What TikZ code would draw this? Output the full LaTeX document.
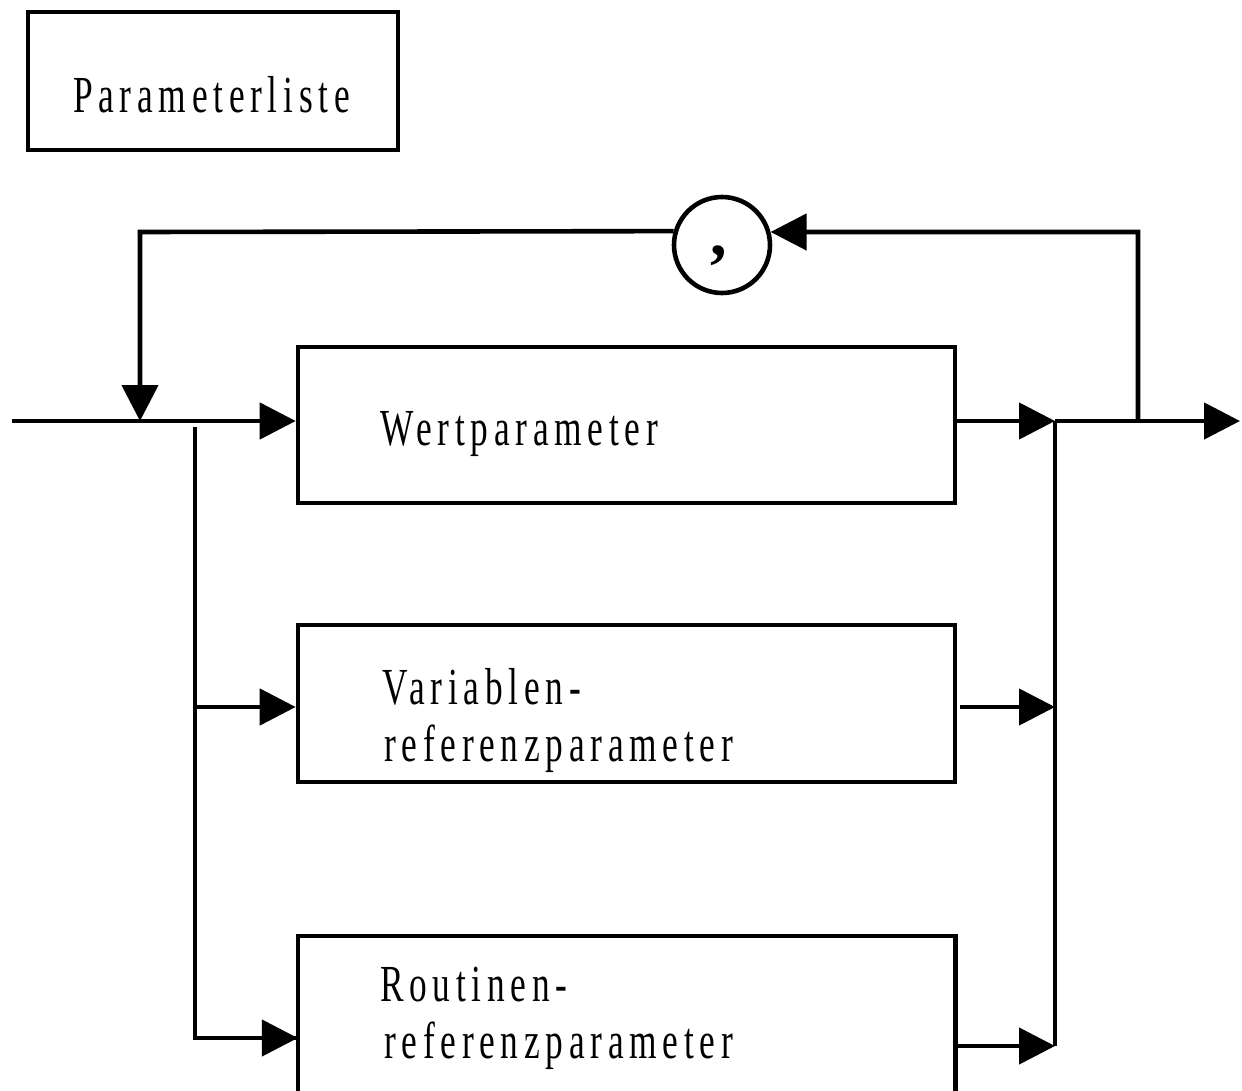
\documentclass[tikz,border=0pt]{standalone}
\usepackage{fontspec}
\setmainfont{Liberation Serif}
\newfontfamily\lblfont[FakeStretch=0.68,LetterSpace=11]{Liberation Serif}
\usetikzlibrary{arrows.meta}
\tikzset{
  wire/.style={line width=4.6pt, line join=miter},
  flow/.style={wire, -{Triangle[length=36pt,width=36pt]}},
  box/.style={draw, line width=4.6pt, rectangle, inner sep=0pt},
  lbl/.style={anchor=base west, inner sep=0pt, font=\lblfont\fontsize{52}{62}\selectfont}
}
\begin{document}
\begin{tikzpicture}[x=1pt,y=-1pt]
  \useasboundingbox (0,0) rectangle (1242,1091);

  % title box
  \node[box, minimum width=370pt, minimum height=138pt] (title) at (213,81) {};
  \node[lbl] (titletext) at (73,113) {Parameterliste};

  % alternative boxes
  \node[box, minimum width=657pt, minimum height=156pt] (wert) at (626.5,425) {};
  \node[lbl] (werttext) at (380,445) {Wertparameter};

  \node[box, minimum width=657pt, minimum height=157pt] (var) at (626.5,703.5) {};
  \node[lbl] (vartext1) at (382,704) {Variablen-};
  \node[lbl] (vartext2) at (384,761) {referenzparameter};

  % last box runs off the lower edge
  \node[minimum width=657pt, minimum height=155pt, inner sep=0pt] (rout) at (626.5,1013.5) {};
  \draw[wire] (rout.south west) -- (rout.north west) -- (rout.north east) -- (rout.south east);
  \node[lbl] (routtext1) at (380,1001) {Routinen-};
  \node[lbl] (routtext2) at (384,1058) {referenzparameter};

  % separator
  \node[draw, circle, line width=4.6pt, minimum size=96pt, inner sep=0pt] (comma) at (722,245) {};
  \node[anchor=base, inner sep=0pt, font=\bfseries\fontsize{66}{70}\selectfont] (commatext) at (719,256) {,};

  % junction points
  \coordinate (start) at (12,421);
  \coordinate (split) at (140,421);
  \coordinate (loopR) at (1138,421);
  \coordinate (join) at (1055,421);
  \coordinate (end) at (1240,421);
  \coordinate (branch) at (195,427);

  % main track
  \draw[wire] (start) -- (split);
  \draw[flow] (split) -- (wert.west|-split);
  \draw[flow] (wert.east|-join) -- (join);
  \draw[flow] (join) -- (end);

  % repetition loop through the comma
  \draw[flow] (loopR) -- (1138,232) -- (comma.15.7);
  \draw[flow] (comma.164.3) -- (140,232) -- (split);

  % branches to the other alternatives
  \draw[wire] (branch) -- (195,1038) -- (rout.west|-0,1038);
  \draw[flow] (195,1038) -- (rout.west|-0,1038);
  \draw[flow] (195,707) -- (var.west|-0,707);

  % collecting line on the right
  \draw[wire] (join) -- (1055,1046);
  \draw[flow] (960,707) -- (1055,707);
  \draw[flow] (rout.east|-0,1046) -- (1055,1046);
\end{tikzpicture}
\end{document}
